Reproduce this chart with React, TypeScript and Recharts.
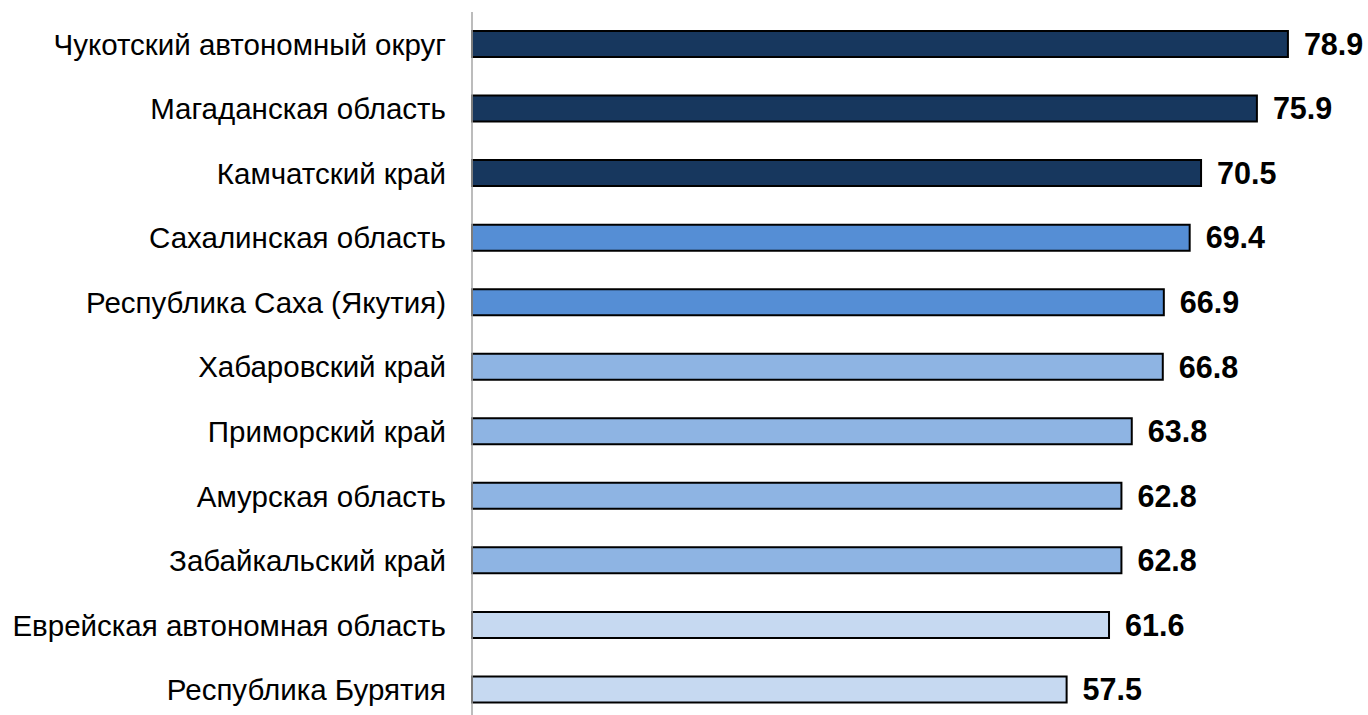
import { Bar, BarChart, Cell, LabelList, XAxis, YAxis } from "recharts";

const REGIONS = [
  "Чукотский автономный округ",
  "Магаданская область",
  "Камчатский край",
  "Сахалинская область",
  "Республика Саха (Якутия)",
  "Хабаровский край",
  "Приморский край",
  "Амурская область",
  "Забайкальский край",
  "Еврейская автономная область",
  "Республика Бурятия",
];
const VALUES = [78.9, 75.9, 70.5, 69.4, 66.9, 66.8, 63.8, 62.8, 62.8, 61.6, 57.5];
// colour group per bar: 0 darkest .. 3 lightest
const GROUPS = [0, 0, 0, 1, 1, 2, 2, 2, 2, 3, 3];
const GROUP_COLORS = ["#17375E", "#558ED5", "#8EB4E3", "#C6D9F1"];

const FONT = '"Liberation Sans", Arial, sans-serif';

const rows = REGIONS.map((name, i) => ({ name, value: VALUES[i], group: GROUPS[i] }));

export default function App() {
  return (
    <div style={{ position: "absolute", left: 0, top: 0, background: "#fff" }}>
      <BarChart
        width={1368}
        height={730}
        data={rows}
        layout="vertical"
        margin={{ top: 12, right: 17, left: 0, bottom: 8 }}
        barCategoryGap={0}
      >
        <XAxis type="number" domain={[0, 85]} hide />
        <YAxis
          type="category"
          dataKey="name"
          width={472}
          tickSize={0}
          tickMargin={26}
          tickLine={false}
          axisLine={{ stroke: "#A6A6A6", strokeWidth: 1.5 }}
          tick={{ fill: "#000", fontSize: 29.5, fontFamily: FONT }}
          interval={0}
        />
        <Bar
          dataKey="value"
          barSize={26}
          stroke="#000"
          strokeWidth={2}
          isAnimationActive={false}
        >
          {rows.map((r, i) => (
            <Cell key={i} fill={GROUP_COLORS[r.group]} />
          ))}
          <LabelList
            dataKey="value"
            position="right"
            offset={16}
            formatter={(v: number) => v.toFixed(1)}
            style={{ fill: "#000", fontSize: 30.5, fontWeight: 700, fontFamily: FONT }}
          />
        </Bar>
      </BarChart>
    </div>
  );
}
